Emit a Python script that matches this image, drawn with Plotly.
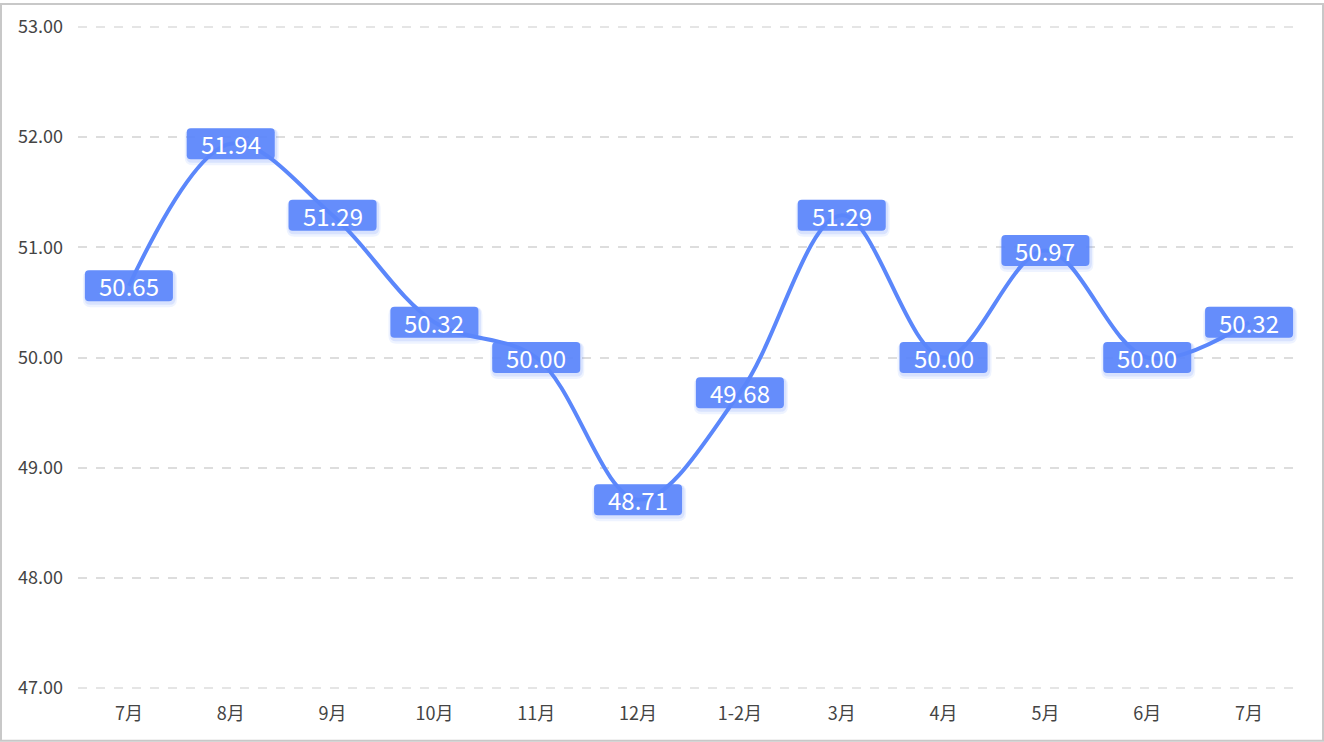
import plotly.graph_objects as go

categories = ["7月", "8月", "9月", "10月", "11月", "12月", "1-2月", "3月", "4月", "5月", "6月", "7月"]
values = [50.65, 51.94, 51.29, 50.32, 50.00, 48.71, 49.68, 51.29, 50.00, 50.97, 50.00, 50.32]
y_ticks = [47, 48, 49, 50, 51, 52, 53]

xs = list(range(len(categories)))
BLUE = "#5B87FB"
FONT = "Noto Sans CJK SC"

W, H = 1324, 742
ML, MR, MT, MB = 78, 24, 23, 53
PW, PH = W - ML - MR, H - MT - MB

fig = go.Figure()
fig.add_trace(go.Scatter(
    x=xs, y=values, mode="lines",
    line=dict(color=BLUE, width=4, shape="spline", smoothing=1.0),
    hoverinfo="skip", showlegend=False,
))


def rrect(w, h, r, dx=0, dy=0):
    x0, x1 = -w / 2 + dx, w / 2 + dx
    y0, y1 = -h / 2 + dy, h / 2 + dy
    return (f"M {x0 + r},{y0} L {x1 - r},{y0} Q {x1},{y0} {x1},{y0 + r} "
            f"L {x1},{y1 - r} Q {x1},{y1} {x1 - r},{y1} L {x0 + r},{y1} "
            f"Q {x0},{y1} {x0},{y1 - r} L {x0},{y0 + r} Q {x0},{y0} {x0 + r},{y0} Z")


shapes = []
# gridlines at the range edges (plotly skips them)
for t in (y_ticks[0], y_ticks[-1]):
    shapes.append(dict(type="line", xref="paper", yref="y", x0=0, x1=1, y0=t, y1=t,
                       layer="below", line=dict(color="#dddddd", width=1.5, dash="dash")))

annotations = []
for x, v in zip(xs, values):
    common = dict(type="path", xref="x", yref="y", xsizemode="pixel", ysizemode="pixel",
                  xanchor=x, yanchor=v, layer="above", line=dict(width=0))
    shapes.append(dict(common, path=rrect(94, 37, 8, 1, -3), fillcolor="rgba(91,135,251,0.10)"))
    shapes.append(dict(common, path=rrect(91, 34, 6, 1, -2), fillcolor="rgba(91,135,251,0.15)"))
    shapes.append(dict(common, path=rrect(88, 31, 4), fillcolor="rgba(91,135,251,0.93)"))
    annotations.append(dict(x=x, y=v, xref="x", yref="y", text=f"{v:.2f}", showarrow=False,
                            xanchor="center", yanchor="middle",
                            font=dict(family=FONT, size=24, color="white")))

# outer border around whole figure
shapes.append(dict(type="rect", xref="paper", yref="paper", layer="above",
                   x0=(-ML + 1) / PW, x1=1 + (MR - 1) / PW,
                   y0=(-MB + 1) / PH, y1=1 + (MT - 1) / PH,
                   line=dict(color="#c8c8c8", width=2), fillcolor="rgba(0,0,0,0)"))

fig.update_layout(
    width=W, height=H,
    margin=dict(l=ML, r=MR, t=MT, b=MB, pad=0),
    paper_bgcolor="white", plot_bgcolor="white",
    font=dict(family=FONT, color="#444444", size=18),
    shapes=shapes, annotations=annotations,
    showlegend=False,
    xaxis=dict(range=[-0.5, len(categories) - 0.5], tickmode="array", tickvals=xs,
               ticktext=categories, showgrid=False, zeroline=False, showline=False,
               ticks="", ticklabelstandoff=12, tickfont=dict(size=18, color="#444444"),
               fixedrange=True),
    yaxis=dict(range=[46.992, 53.008], tickmode="array", tickvals=y_ticks,
               ticktext=[f"{t:.2f}" for t in y_ticks], showgrid=True,
               gridcolor="#dddddd", gridwidth=1.5, griddash="dash",
               zeroline=False, showline=False, ticks="", ticklabelstandoff=14,
               tickfont=dict(size=18, color="#444444"), fixedrange=True),
)

fig.write_html("out.html", config={"displayModeBar": False},
               post_script="document.body.style.margin='0';")
